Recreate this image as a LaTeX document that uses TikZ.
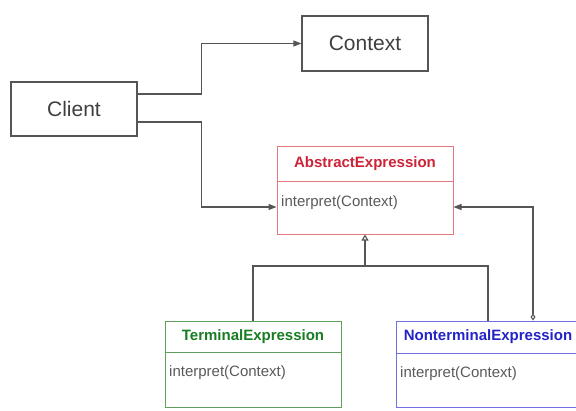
\documentclass[tikz,border=0pt]{standalone}
\usepackage{fontspec}
\setmainfont{Liberation Sans}
\usetikzlibrary{arrows.meta}

\definecolor{linegray}{RGB}{85,85,85}
\definecolor{absborder}{RGB}{228,120,125}
\definecolor{abstext}{RGB}{205,35,55}
\definecolor{termborder}{RGB}{95,160,95}
\definecolor{termtext}{RGB}{25,125,35}
\definecolor{ntborder}{RGB}{115,110,225}
\definecolor{nttext}{RGB}{35,35,200}
\definecolor{methgray}{RGB}{90,90,90}

\tikzset{
  plainbox/.style={rectangle,draw=linegray,line width=1.1pt,inner sep=0pt,
    font=\fontsize{21}{24}\selectfont,text=black!75},
  classbox/.style={rectangle,draw=#1,line width=1pt,minimum height=87pt,inner sep=0pt},
  classname/.style={font=\bfseries\fontsize{15}{18}\selectfont,inner sep=0pt},
  method/.style={anchor=west,font=\fontsize{15}{18}\selectfont,text=methgray,inner sep=0pt},
  conn/.style={draw=linegray,line width=1.1pt},
  assoc/.style={conn,-{Triangle[length=8pt,width=6pt]}},
}

\begin{document}
\begin{tikzpicture}[x=1pt,y=-1pt]
\fill[white] (0,0) rectangle (576,410);
\useasboundingbox (0,0) rectangle (576,410);

\begin{scope}[every node/.style={plainbox}]
\node[minimum width=126pt,minimum height=54pt] (client) at (74,109) {Client};
\node[minimum width=126pt,minimum height=55pt] (context) at (365,43.5) {Context};
\end{scope}

% class boxes
\node[classbox=absborder,minimum width=176pt,minimum height=88pt] (abs) at (365,190) {};
\node[classbox=termborder,minimum width=176pt,minimum height=86pt] (term) at (253,364) {};
\node[classbox=ntborder,minimum width=184pt,minimum height=86pt] (nonterm) at (488,364) {};

\draw[absborder,line width=1pt] (abs.west |- 0,181) -- (abs.east |- 0,181);
\draw[termborder,line width=1pt] (term.west |- 0,352) -- (term.east |- 0,352);
\draw[ntborder,line width=1pt] (nonterm.west |- 0,353) -- (nonterm.east |- 0,353);

\node[classname,text=abstext] (absname) at (365,163.5) {AbstractExpression};
\node[classname,text=termtext] (termname) at (253,336.5) {TerminalExpression};
\node[classname,text=nttext] (ntname) at (488,337) {NonterminalExpression};

\node[method] (absop) at (281,203) {interpret(Context)};
\node[method] (termop) at (169,373) {interpret(Context)};
\node[method] (ntop) at (400,374) {interpret(Context)};

% connectors
\draw[assoc] ([yshift=15pt]client.east) -- ++(64,0) |- (context.west);
\draw[assoc] ([yshift=-13pt]client.east) -- ++(64,0) |- ([yshift=-17pt]abs.west);
\draw[conn,{Diamond[open,length=7pt,width=5pt]}-{Triangle[length=8pt,width=6pt]}]
  ([xshift=45pt]nonterm.north) |- ([yshift=-17pt]abs.east);

\coordinate (join) at (365,266);
\draw[conn] (term.north) |- (join) -| (nonterm.north);
\draw[conn,-{Triangle[open,length=6pt,width=7pt]}] (join) -- (abs.south);
\end{tikzpicture}
\end{document}
